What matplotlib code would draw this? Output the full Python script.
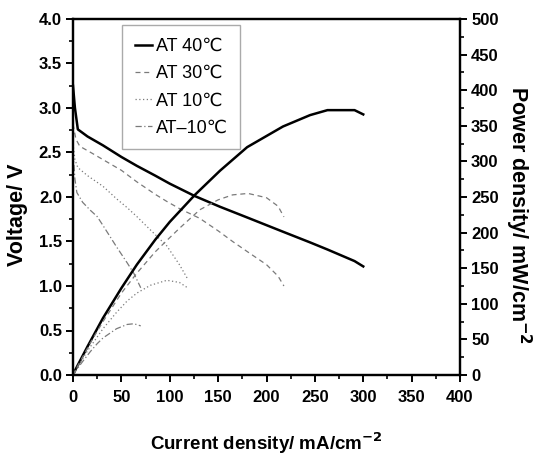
import matplotlib
matplotlib.use("Agg")
import matplotlib.pyplot as plt
from matplotlib.ticker import MultipleLocator, FormatStrFormatter

# ---------------- data ----------------
# AT 40C
i40 = [0, 2, 5, 15, 31, 50, 66, 85, 100, 126, 152, 180, 217, 245, 263, 291, 300]
v40 = [3.25, 3.00, 2.76, 2.68, 2.58, 2.45, 2.35, 2.24, 2.15, 2.01, 1.89, 1.77, 1.61, 1.49, 1.41, 1.28, 1.22]
p40 = [0, 6, 14, 40, 80, 122, 155, 190, 215, 253, 287, 320, 349, 365, 372, 372, 366]

# AT 30C
i30 = [0, 3, 7, 20, 31, 50, 66, 85, 97, 110, 131, 150, 165, 181, 200, 212, 218]
v30 = [2.82, 2.65, 2.57, 2.49, 2.42, 2.30, 2.17, 2.03, 1.95, 1.87, 1.76, 1.62, 1.50, 1.38, 1.24, 1.11, 1.00]
p30 = [0, 8, 18, 50, 75, 115, 143, 173, 189, 206, 232, 246, 253, 255, 249, 237, 222]

# AT 10C
i10 = [0, 2, 5, 15, 31, 45, 56, 66, 80, 97, 110, 119]
v10 = [2.60, 2.42, 2.33, 2.24, 2.12, 1.98, 1.88, 1.78, 1.63, 1.45, 1.24, 1.07]
p10 = [0, 5, 12, 34, 65, 88, 104, 115, 126, 133, 130, 122]

# AT -10C
im10 = [0, 2, 4, 10, 18, 25, 31, 45, 56, 63, 70]
vm10 = [2.50, 2.20, 2.05, 1.94, 1.85, 1.78, 1.68, 1.44, 1.26, 1.14, 0.98]
pm10 = [0, 4, 8, 19, 33, 44, 52, 65, 71, 72, 69]

labels = ["AT 40℃", "AT 30℃", "AT 10℃", "AT\u201310℃"]

FONT = ["Liberation Sans Narrow", "Liberation Sans", "DejaVu Sans"]
plt.rcParams["font.family"] = FONT
plt.rcParams["mathtext.default"] = "bf"

GRAY = "#7a7a7a"
styles = [
    dict(color="black", lw=1.8, ls="-"),
    dict(color=GRAY, lw=0.9, ls=(0, (4, 3))),
    dict(color=GRAY, lw=0.9, ls=(0, (1, 2))),
    dict(color=GRAY, lw=0.9, ls=(0, (5, 2, 1, 2))),
]

fig = plt.figure(figsize=(5.34, 4.58), dpi=100)
ax = fig.add_axes([73 / 534, 83 / 458, 387 / 534, 356 / 458])
ax2 = ax.twinx()

data = [(i40, v40, p40), (i30, v30, p30), (i10, v10, p10), (im10, vm10, pm10)]
handles = []
for (x, v, p), st, lab in zip(data, styles, labels):
    h, = ax.plot(x, v, label=lab, **st)
    ax2.plot(x, p, **st)
    handles.append(h)

ax.set_xlim(0, 400)
ax.set_ylim(0, 4.0)
ax2.set_ylim(0, 500)

ax.xaxis.set_major_locator(MultipleLocator(50))
ax.xaxis.set_minor_locator(MultipleLocator(25))
ax.yaxis.set_major_locator(MultipleLocator(0.5))
ax.yaxis.set_minor_locator(MultipleLocator(0.25))
ax.yaxis.set_major_formatter(FormatStrFormatter("%.1f"))
ax2.yaxis.set_major_locator(MultipleLocator(50))
ax2.yaxis.set_minor_locator(MultipleLocator(25))

for a in (ax, ax2):
    for s in a.spines.values():
        s.set_linewidth(1.6)
    a.tick_params(which="major", direction="out", length=5, width=1.4,
                  labelsize=12, pad=3)
    a.tick_params(which="minor", direction="out", length=3, width=1.2)
ax.tick_params(axis="x", which="both", top=False)
ax.tick_params(axis="x", which="major", pad=6)
ax.yaxis.set_ticks_position("left")

for lab in ax.get_xticklabels() + ax.get_yticklabels() + ax2.get_yticklabels():
    lab.set_fontweight("bold")

ax.set_xlabel("Current density/ mA/cm$^{-2}$", fontsize=13.5, fontweight="bold",
              family="Liberation Sans")
ax.xaxis.set_label_coords(0.5, -0.156)
ax.set_ylabel("Voltage/ V", fontsize=15.5, fontweight="bold",
              family="Liberation Sans")
ax.yaxis.set_label_coords(-0.115, 0.45)
ax2.set_ylabel("Power density/ mW/cm$^{-2}$", fontsize=15.5, fontweight="bold",
               family="Liberation Sans", rotation=270, va="bottom")
ax2.yaxis.set_label_coords(1.112, 0.45)

leg = ax.legend(handles=handles, loc="upper left", bbox_to_anchor=(0.127, 0.982),
                borderaxespad=0, fancybox=False, edgecolor="#aaaaaa",
                framealpha=1, handlelength=0.95,
                handletextpad=0.2, labelspacing=0.56, borderpad=0.7,
                prop={"family": FONT, "size": 13})
leg.get_frame().set_linewidth(1.0)

fig.savefig("out.png", dpi=100)
